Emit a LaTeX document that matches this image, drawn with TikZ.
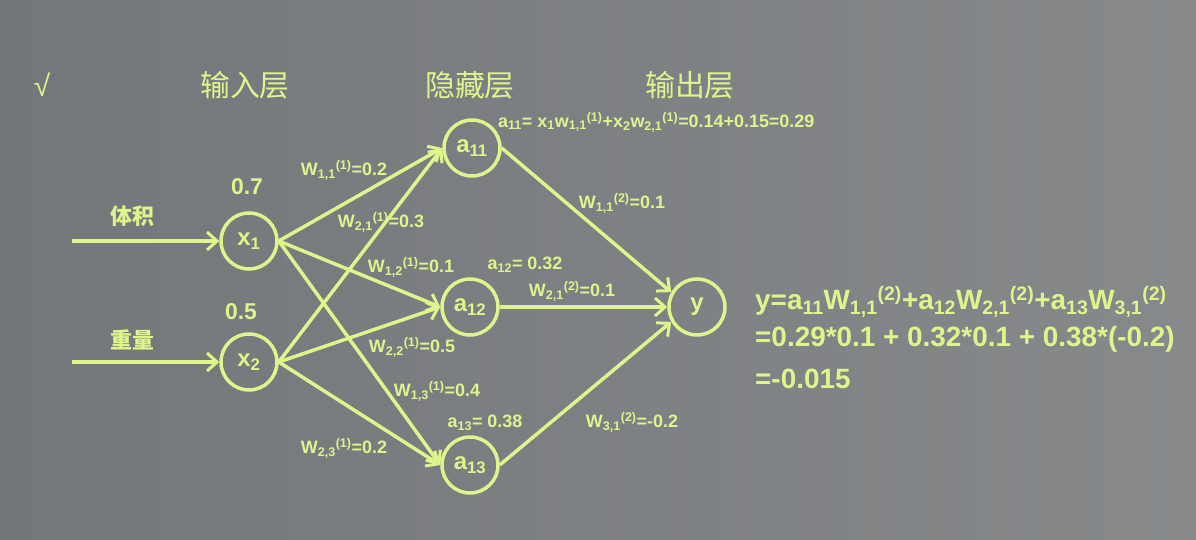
\documentclass[tikz,border=0pt]{standalone}
\usepackage{fontspec}
\setmainfont{Liberation Sans}
\newfontfamily\cjk{Noto Sans CJK SC}
\usetikzlibrary{arrows.meta}
\definecolor{boardl}{HTML}{74777A}
\definecolor{boardr}{HTML}{87898B}
\definecolor{chalk}{HTML}{DCF58C}
\newcommand{\lo}[1]{\textsubscript{#1}}
\newcommand{\hi}[1]{\textsuperscript{#1}}
\begin{document}
\begin{tikzpicture}[x=1bp, y=-1bp,
  neuron/.style={circle, draw=chalk, line width=3.5bp, minimum size=56bp, inner sep=0pt,
    text=chalk, font=\fontsize{24}{26}\selectfont\bfseries},
  link/.style={draw=chalk, line width=3.5bp, -{Straight Barb[length=10bp,width=18bp,line width=3bp]}},
  wlabel/.style={text=chalk, inner sep=0pt, font=\fontsize{18}{20}\selectfont\bfseries},
  head/.style={text=chalk, inner sep=0pt, font=\cjk\fontsize{30}{32}\selectfont},
  big/.style={text=chalk, inner sep=0pt, anchor=west, font=\fontsize{28}{30}\selectfont\bfseries}]
  \shade[left color=boardl, right color=boardr] (0,0) rectangle (1196,540);
  % headers
  \node[head, font=\fontsize{30}{32}\selectfont] (tick) at (42,85) {√};
  \node[head] (hin) at (245,85) {输入层};
  \node[head] (hhid) at (470,85) {隐藏层};
  \node[head] (hout) at (690,85) {输出层};
  % neurons
  \node[neuron] (x1) at (249,241) {x\lo{1}};
  \node[neuron] (x2) at (249,362) {x\lo{2}};
  \node[neuron] (a11) at (472,148) {a\lo{11}};
  \node[neuron] (a12) at (470,307) {a\lo{12}};
  \node[neuron] (a13) at (470,465) {a\lo{13}};
  \node[neuron] (y) at (697,307) {y};
  % inputs
  \coordinate (in1) at (72,241);
  \coordinate (in2) at (72,362);
  \draw[link] (in1) -- (x1.west);
  \draw[link] (in2) -- (x2.west);
  \node[head, font=\cjk\fontsize{22}{24}\selectfont\bfseries] (vol) at (132,216) {体积};
  \node[head, font=\cjk\fontsize{22}{24}\selectfont\bfseries] (wt) at (132,340) {重量};
  \node[wlabel, font=\fontsize{23}{25}\selectfont\bfseries] (v1) at (247,187) {0.7};
  \node[wlabel, font=\fontsize{23}{25}\selectfont\bfseries] (v2) at (241,312) {0.5};
  % input -> hidden
  \foreach \i in {x1,x2}
    \foreach \j in {a11,a12,a13}
      \draw[link] (\i.east) -- (\j.west);
  % hidden -> output
  \draw[link] (a11.east) -- (y.150);
  \draw[link] (a12.east) -- (y.west);
  \draw[link] (a13.east) -- (y.210);
  % weights
  \node[wlabel] (w111) at (344,170) {W\lo{1,1}\hi{(1)}=0.2};
  \node[wlabel] (w211) at (381,222) {W\lo{2,1}\hi{(1)}=0.3};
  \node[wlabel] (w121) at (411,267) {W\lo{1,2}\hi{(1)}=0.1};
  \node[wlabel] (w221) at (412,347) {W\lo{2,2}\hi{(1)}=0.5};
  \node[wlabel] (w131) at (437,391) {W\lo{1,3}\hi{(1)}=0.4};
  \node[wlabel] (w231) at (344,448) {W\lo{2,3}\hi{(1)}=0.2};
  \node[wlabel] (w112) at (622,203) {W\lo{1,1}\hi{(2)}=0.1};
  \node[wlabel] (w212) at (572,291) {W\lo{2,1}\hi{(2)}=0.1};
  \node[wlabel] (w312) at (632,422) {W\lo{3,1}\hi{(2)}=-0.2};
  \node[wlabel] (s12) at (525,265) {a\lo{12}= 0.32};
  \node[wlabel] (s13) at (485,423) {a\lo{13}= 0.38};
  \node[wlabel, anchor=west, font=\fontsize{18}{20}\selectfont\bfseries] (s11) at (498,122)
    {a\lo{11}= x\lo{1}w\lo{1,1}\hi{(1)}+x\lo{2}w\lo{2,1}\hi{(1)}=0.14+0.15=0.29};
  % output formula
  \node[big] (f1) at (755,302) {y=a\lo{11}W\lo{1,1}\hi{(2)}+a\lo{12}W\lo{2,1}\hi{(2)}+a\lo{13}W\lo{3,1}\hi{(2)}};
  \node[big] (f2) at (755,339) {=0.29*0.1 + 0.32*0.1 + 0.38*(-0.2)};
  \node[big] (f3) at (755,379) {=-0.015};
\end{tikzpicture}
\end{document}
